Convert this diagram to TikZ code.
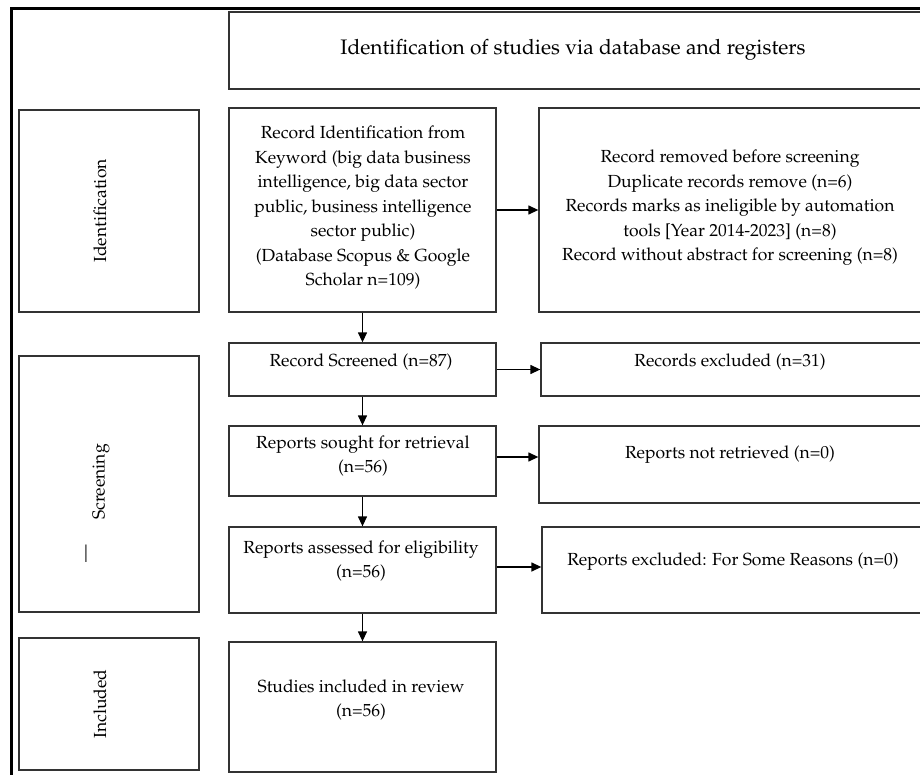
\documentclass[tikz,border=0pt]{standalone}
\usepackage[T1]{fontenc}
\usepackage{mathpazo}
\usepackage{tikz}
\usetikzlibrary{arrows.meta}
\definecolor{lineC}{rgb}{0.2,0.2,0.2}
\newcommand{\bodyfont}{\fontsize{17.5}{24.5}\selectfont}
\newcommand{\titlefont}{\fontsize{21}{25}\selectfont}

\begin{document}
\begin{tikzpicture}[x=1pt,y=-1pt,
  box/.style={draw=lineC,line width=1.3pt,inner sep=0pt},
  txt/.style={font=\bodyfont,align=center,inner sep=0pt},
  side/.style={font=\bodyfont,rotate=90,inner sep=0pt},
  arr/.style={line width=1.3pt,-{Triangle[length=10pt,width=9pt]}}]
  \useasboundingbox (0,0) rectangle (920,775);
  \clip (0,0) rectangle (920,775);

  % Outer frame (only top and left edge visible)
  \draw[line width=3.5pt] (11.5,790) -- (11.5,8.5) -- (940,8.5);

  % Title
  \node[box,minimum width=701,minimum height=77] (title) at (579.5,50.5) {};
  \node[font=\titlefont,inner sep=0pt] (titletxt) at (573,50) {Identification of studies via database and registers};

  % Phase boxes on the left
  \node[box,minimum width=180,minimum height=202] (idlab) at (109,211) {};
  \node[box,minimum width=180,minimum height=256] (scrlab) at (109,484) {};
  \node[box,minimum width=180,minimum height=132] (inclab) at (109,704) {};
  \node[side] (idtxt) at (100,211) {Identification};
  \node[side] (scrtxt) at (101,482) {Screening};
  \node[side] (dashtxt) at (88,554) {---};
  \node[side] (inctxt) at (100,704) {Included};

  % Main column
  \node[box,minimum width=267,minimum height=204] (ident) at (362.5,210) {};
  \node[box,minimum width=267,minimum height=53] (screened) at (362.5,369.5) {};
  \node[box,minimum width=267,minimum height=70] (sought) at (362.5,461) {};
  \node[box,minimum width=267,minimum height=86] (assessed) at (362.5,570) {};
  \node[box,minimum width=267,minimum height=130] (included) at (362.5,707) {};

  \node[txt] (identtxt) at (363,208) {Record Identification from\\Keyword (big data business\\intelligence, big data sector\\public, business intelligence\\sector public)\\(Database Scopus \& Google\\Scholar n=109)};
  \node[txt] (screenedtxt) at (361,362) {Record Screened (n=87)};
  \node[txt] (soughttxt) at (363,456) {Reports sought for retrieval\\(n=56)};
  \node[txt] (assessedtxt) at (361,561) {Reports assessed for eligibility\\(n=56)};
  \node[txt] (includedtxt) at (361,700) {Studies included in review\\(n=56)};

  % Side column (cut at the right edge)
  \node[box,minimum width=391,minimum height=204] (removed) at (734.5,210) {};
  \node[box,minimum width=389,minimum height=53] (excl) at (735.5,369.5) {};
  \node[box,minimum width=391,minimum height=77] (notret) at (734.5,464.5) {};
  \node[box,minimum width=388,minimum height=86] (repexcl) at (736,570) {};

  \node[txt] (removedtxt) at (730,208) {Record removed before screening\\Duplicate records remove (n=6)\\Records marks as ineligible by automation\\tools [Year 2014-2023] (n=8)\\Record without abstract for screening (n=8)};
  \node[txt] (excltxt) at (730,362) {Records excluded (n=31)};
  \node[txt] (notrettxt) at (730,455) {Reports not retrieved (n=0)};
  \node[txt] (repexcltxt) at (733,562) {Reports excluded: For Some Reasons (n=0)};

  % Arrows down the main column
  \draw[arr] (ident) -- (screened);
  \draw[arr] (screened) -- (sought);
  \draw[arr] (sought) -- (assessed);
  \draw[arr] (assessed) -- (included);

  % Arrows to the side column
  \draw[arr] (ident.east) -- (ident.east -| removed.west);
  \draw[arr] (screened.east) -- (screened.east -| excl.west);
  \draw[arr] ([yshift=4]sought.east) -- ([yshift=4]sought.east -| notret.west);
  \draw[arr] ([yshift=3]assessed.east) -- ([yshift=3]assessed.east -| repexcl.west);
\end{tikzpicture}
\end{document}
